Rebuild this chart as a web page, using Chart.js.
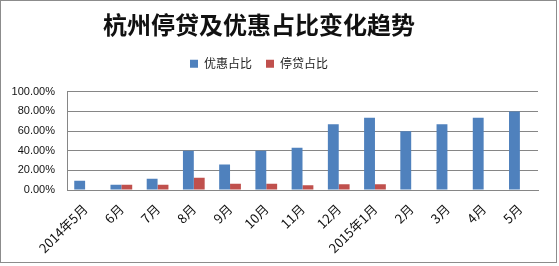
<!DOCTYPE html>
<html>
<head>
<meta charset="utf-8">
<script src="https://cdn.jsdelivr.net/npm/chart.js@4"></script>
<style>
    body { margin: 0; background: #fff; }
    #box {
        position: absolute; left: 0; top: 0;
        width: 555px; height: 261px;
        border: 1px solid #8c8c8c;
    }
</style>
</head>
<body>
<div id="box"><canvas id="chart" width="555" height="261"></canvas></div>
<script>
    // Chart data
    const months = ['2014年5月', '6月', '7月', '8月', '9月', '10月', '11月', '12月',
        '2015年1月', '2月', '3月', '4月', '5月'];
    const discountShare = [0.095, 0.055, 0.115, 0.40, 0.26, 0.40, 0.43, 0.67, 0.735, 0.598, 0.67, 0.735, 0.80];
    const stopLoanShare = [null, 0.055, 0.055, 0.125, 0.065, 0.065, 0.05, 0.06, 0.06, null, null, null, null];
    const yTicks = [0, 0.2, 0.4, 0.6, 0.8, 1.0];

    const cjk = '"Noto Sans CJK SC", "Liberation Sans", sans-serif';

    // extra room between legend and plot area, header nudged left like the original
    const headerLayout = {
        id: 'headerLayout',
        beforeInit(chart) {
            const fit = chart.legend.fit;
            chart.legend.fit = function () {
                fit.bind(chart.legend)();
                this.height += 12;
            };
        },
        afterLayout(chart) {
            [chart.titleBlock, chart.legend].forEach(b => {
                if (b) { b.left -= 16; b.right -= 16; }
            });
        }
    };

    new Chart(document.getElementById('chart'), {
        type: 'bar',
        data: {
            labels: months,
            datasets: [{
                label: '优惠占比',
                data: discountShare,
                backgroundColor: '#4f81bd'
            }, {
                label: '停贷占比',
                data: stopLoanShare,
                backgroundColor: '#c0504d'
            }]
        },
        options: {
            responsive: false,
            animation: false,
            categoryPercentage: 0.6,
            barPercentage: 1.0,
            layout: { padding: { left: 11, right: 18, top: 4, bottom: 3 } },
            plugins: {
                title: {
                    display: true,
                    text: '杭州停贷及优惠占比变化趋势',
                    color: '#111',
                    font: { family: cjk, size: 24, weight: 'bold' },
                    padding: { top: 5, bottom: 5 }
                },
                legend: {
                    position: 'top',
                    labels: {
                        boxWidth: 8,
                        boxHeight: 8,
                        color: '#222',
                        font: { family: cjk, size: 12 },
                        padding: 14
                    }
                },
                tooltip: { enabled: false }
            },
            scales: {
                x: {
                    grid: { display: false },
                    border: { color: '#868686' },
                    afterFit: (scale) => { scale.paddingLeft = 0; },
                    ticks: {
                        color: '#111',
                        font: { family: cjk, size: 13 },
                        minRotation: 45,
                        maxRotation: 45,
                        autoSkip: false
                    }
                },
                y: {
                    min: 0,
                    max: 1,
                    afterBuildTicks: (axis) => {
                        axis.ticks = yTicks.map(v => ({ value: v }));
                    },
                    afterFit: (scale) => { scale.width = 55; },
                    grid: { color: '#868686', drawTicks: false },
                    border: { color: '#868686' },
                    ticks: {
                        color: '#111',
                        padding: 12,
                        font: { family: '"Liberation Sans", sans-serif', size: 11 },
                        callback: (v) => (v * 100).toFixed(2) + '%'
                    }
                }
            }
        },
        plugins: [headerLayout]
    });
</script>
</body>
</html>
